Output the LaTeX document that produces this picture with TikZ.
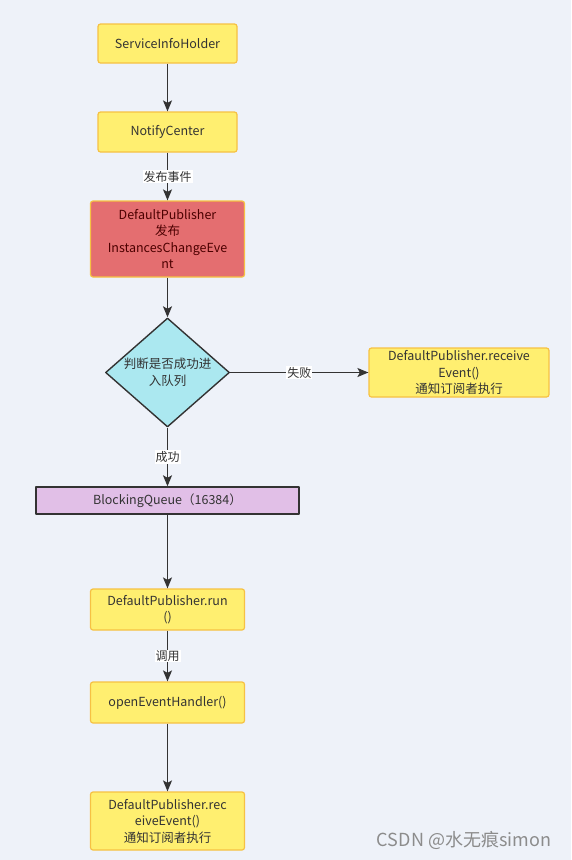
\documentclass[tikz,border=0pt]{standalone}
\usepackage{fontspec}
\setmainfont{Noto Sans CJK SC}
\usetikzlibrary{shapes.geometric,arrows.meta}
\definecolor{bgblue}{HTML}{EEF2F9}
\definecolor{inkgray}{HTML}{333333}
\definecolor{boxyellow}{HTML}{FFEF70}
\definecolor{boxedge}{HTML}{F6C143}
\definecolor{pubred}{HTML}{E46E70}
\definecolor{askcyan}{HTML}{ABE8F0}
\definecolor{queuepurple}{HTML}{E1BFE7}
\begin{document}
\begin{tikzpicture}[x=1pt, y=-1pt, font=\fontsize{12.5}{16.5}\selectfont, line join=round,
  >={Stealth[length=11pt,width=9pt,inset=2.5pt]},
  box/.style={draw=boxedge, fill=boxyellow, line width=1.2pt, rounded corners=2.5pt, text=inkgray, align=center, inner sep=2pt},
  decide/.style={diamond, draw=inkgray, fill=askcyan, line width=1.4pt, text=inkgray, align=center, aspect=1.14, inner sep=-3pt, minimum width=124pt, minimum height=109pt},
  queue/.style={draw=inkgray, fill=queuepurple, line width=1.4pt, text=inkgray, minimum width=263pt, minimum height=27pt, inner sep=2pt},
  tag/.style={fill=white, text=inkgray, inner sep=1pt, font=\fontsize{12}{14}\selectfont},
  link/.style={->, draw=inkgray, line width=1.4pt}]
	\fill[bgblue] (0,0) rectangle (571,860);
	\node[box, minimum width=139pt, minimum height=39pt] (holder) at (167.5,43.5) {ServiceInfoHolder};
	\node[box, minimum width=139pt, minimum height=40pt] (notify) at (167.5,132) {NotifyCenter};
	\node[box, fill=pubred, text=black!70!red, minimum width=154pt, minimum height=76pt] (publish) at (167.5,239) {DefaultPublisher\\发布\\InstancesChangeEve\\nt};
	\node[decide] (enqueue) at (167.5,372.5) {判断是否成功进\\入队列};
	\node[box, minimum width=180pt, minimum height=49pt] (fail) at (459,372.5) {DefaultPublisher.receive\\Event()\\通知订阅者执行};
	\node[queue] (queue) at (167.5,500.5) {BlockingQueue（16384）};
	\node[box, minimum width=154pt, minimum height=41pt] (run) at (167.5,609.5) {DefaultPublisher.run\\()};
	\node[box, minimum width=154pt, minimum height=41pt] (handler) at (167.5,702.5) {openEventHandler()};
	\node[box, minimum width=154pt, minimum height=58pt] (receive) at (167.5,821) {DefaultPublisher.rec\\eiveEvent()\\通知订阅者执行};
	\draw[link] (holder) -- (notify);
	\draw[link] (notify) -- node[tag]{发布事件} (publish);
	\draw[link] (publish) -- (enqueue);
	\draw[link] (enqueue) -- node[tag]{失败} (fail);
	\draw[link] (enqueue) -- node[tag]{成功} (queue);
	\draw[link] (queue) -- (run);
	\draw[link] (run) -- node[tag]{调用} (handler);
	\draw[link] (handler) -- (receive);
	\node[text=black!45, font=\fontsize{18}{20}\selectfont] (mark) at (464,840) {CSDN @水无痕simon};
\end{tikzpicture}
\end{document}
